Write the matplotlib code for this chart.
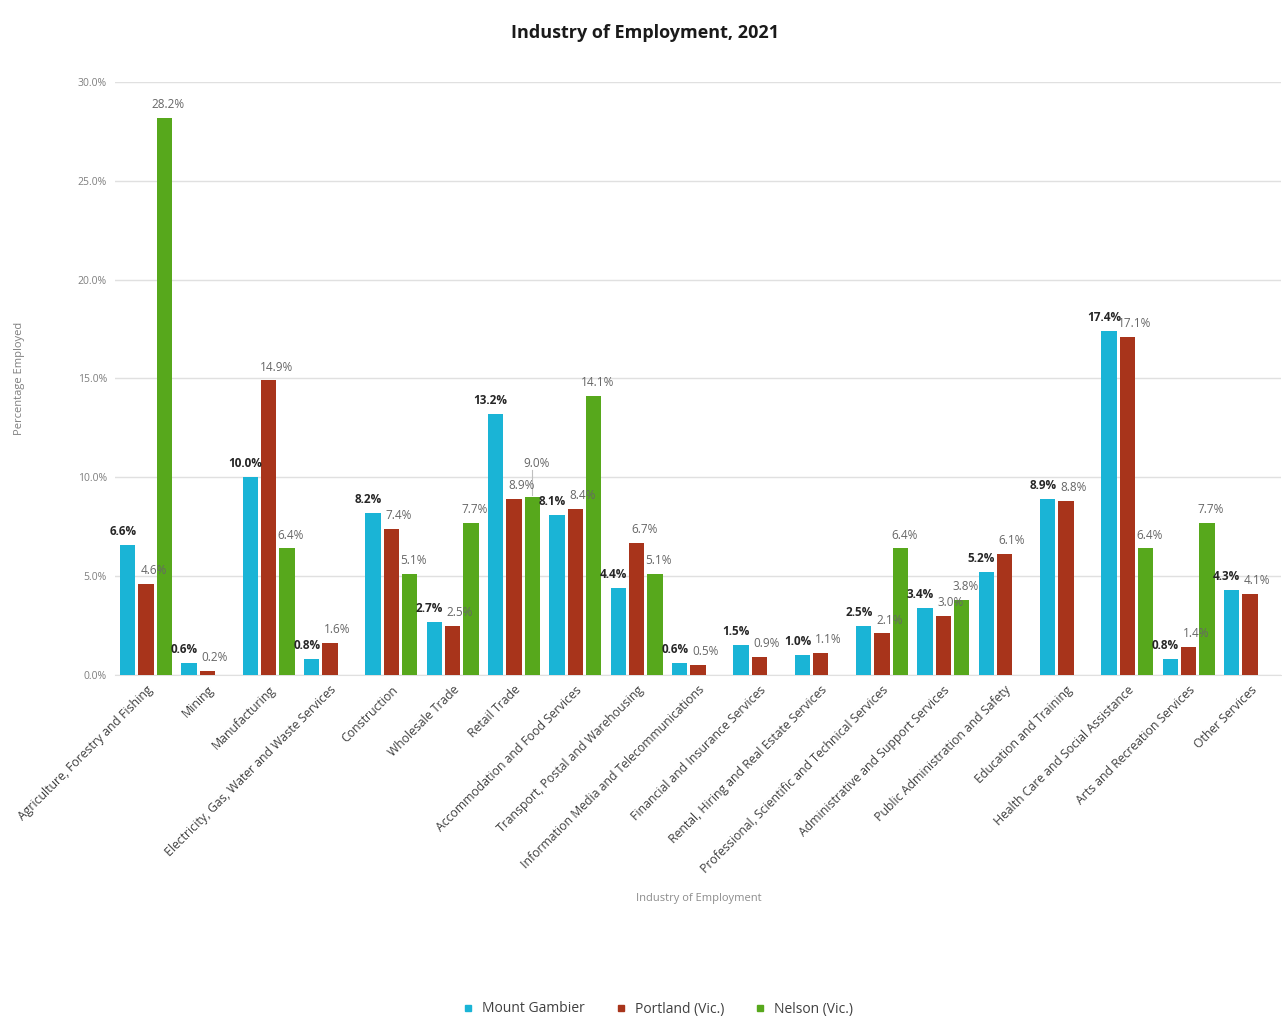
import numpy as np
import matplotlib
matplotlib.use("Agg")
import matplotlib.pyplot as plt
from matplotlib.lines import Line2D

categories = [
    "Agriculture, Forestry and Fishing", "Mining", "Manufacturing",
    "Electricity, Gas, Water and Waste Services", "Construction", "Wholesale Trade",
    "Retail Trade", "Accommodation and Food Services", "Transport, Postal and Warehousing",
    "Information Media and Telecommunications", "Financial and Insurance Services",
    "Rental, Hiring and Real Estate Services", "Professional, Scientific and Technical Services",
    "Administrative and Support Services", "Public Administration and Safety",
    "Education and Training", "Health Care and Social Assistance",
    "Arts and Recreation Services", "Other Services",
]
mount_gambier = [6.6, 0.6, 10.0, 0.8, 8.2, 2.7, 13.2, 8.1, 4.4, 0.6, 1.5, 1.0, 2.5, 3.4, 5.2, 8.9, 17.4, 0.8, 4.3]
portland = [4.6, 0.2, 14.9, 1.6, 7.4, 2.5, 8.9, 8.4, 6.7, 0.5, 0.9, 1.1, 2.1, 3.0, 6.1, 8.8, 17.1, 1.4, 4.1]
nelson = [28.2, None, 6.4, None, 5.1, 7.7, 9.0, 14.1, 5.1, None, None, None, 6.4, 3.8, None, None, 6.4, 7.7, None]
series_names = ["Mount Gambier", "Portland (Vic.)", "Nelson (Vic.)"]
colors = ["#1ab4d6", "#a8341b", "#57a81c"]
yticks = [0, 5, 10, 15, 20, 25, 30]

plt.rcParams['font.family'] = ['Open Sans', 'DejaVu Sans']

fig = plt.figure(figsize=(12.82, 10.30), dpi=100)
ax = fig.add_axes([0.09, 0.3447, 0.909, 0.5757])

x = np.arange(len(categories))
w = 0.25
offsets = [-0.30, 0.0, 0.30]
label_shift = [-0.08, 0.12, 0.06]
all_series = [mount_gambier, portland, nelson]
for i, (vals, col, off) in enumerate(zip(all_series, colors, offsets)):
    for k, v in enumerate(vals):
        if v is None:
            continue
        xx = x[k] + off
        ax.bar(xx, v, width=w, color=col, zorder=3)
        ly = v + 0.35
        if i == 2 and abs(v - portland[k]) < 0.6:
            ly = v + 1.35
            ax.plot([xx, xx], [v + 0.1, ly], color='#bfbfbf', lw=0.8, zorder=4)
        ax.text(xx + label_shift[i], ly, f"{v:.1f}%", ha='center', va='bottom',
                fontsize=8.5, color='#262626' if i == 0 else '#666666',
                fontweight='bold' if i == 0 else 'normal', zorder=5)

ax.set_xlim(-0.5, len(categories) - 0.5)
ax.set_ylim(0, 30)
ax.set_yticks(yticks)
ax.set_yticklabels([f"{t:.1f}%" for t in yticks], fontsize=7.5, color='#7f7f7f')
ax.yaxis.grid(True, color='#e0e0e0', linewidth=1.0, zorder=0)
ax.set_axisbelow(True)
ax.set_xticks(x)
ax.set_xticklabels(categories, rotation=45, ha='right', rotation_mode='anchor',
                   fontsize=8.8, color='#404040')
ax.tick_params(axis='both', length=0, pad=6)
for s in ['top', 'right', 'left']:
    ax.spines[s].set_visible(False)
ax.spines['bottom'].set_color('#e0e0e0')

ax.set_ylabel("Percentage Employed", fontsize=8, color='#7f7f7f', labelpad=38)
fig.text(0.545, 1 - 898 / 1030, "Industry of Employment", ha='center', va='center',
         fontsize=8, color='#8c8c8c')
fig.text(0.503, 1 - 33 / 1030, "Industry of Employment, 2021", ha='center', va='center',
         fontsize=13, fontweight='bold', color='#1a1a1a')

handles = [Line2D([0], [0], marker='s', linestyle='none', markersize=5,
                  markerfacecolor=c, markeredgecolor=c) for c in colors]
fig.legend(handles, series_names, loc='center', bbox_to_anchor=(0.51, 1 - 1009 / 1030),
           ncol=3, frameon=False, fontsize=10, handletextpad=0.0, columnspacing=1.6,
           labelcolor='#404040')

fig.savefig("out.png", dpi=100, facecolor='white')
